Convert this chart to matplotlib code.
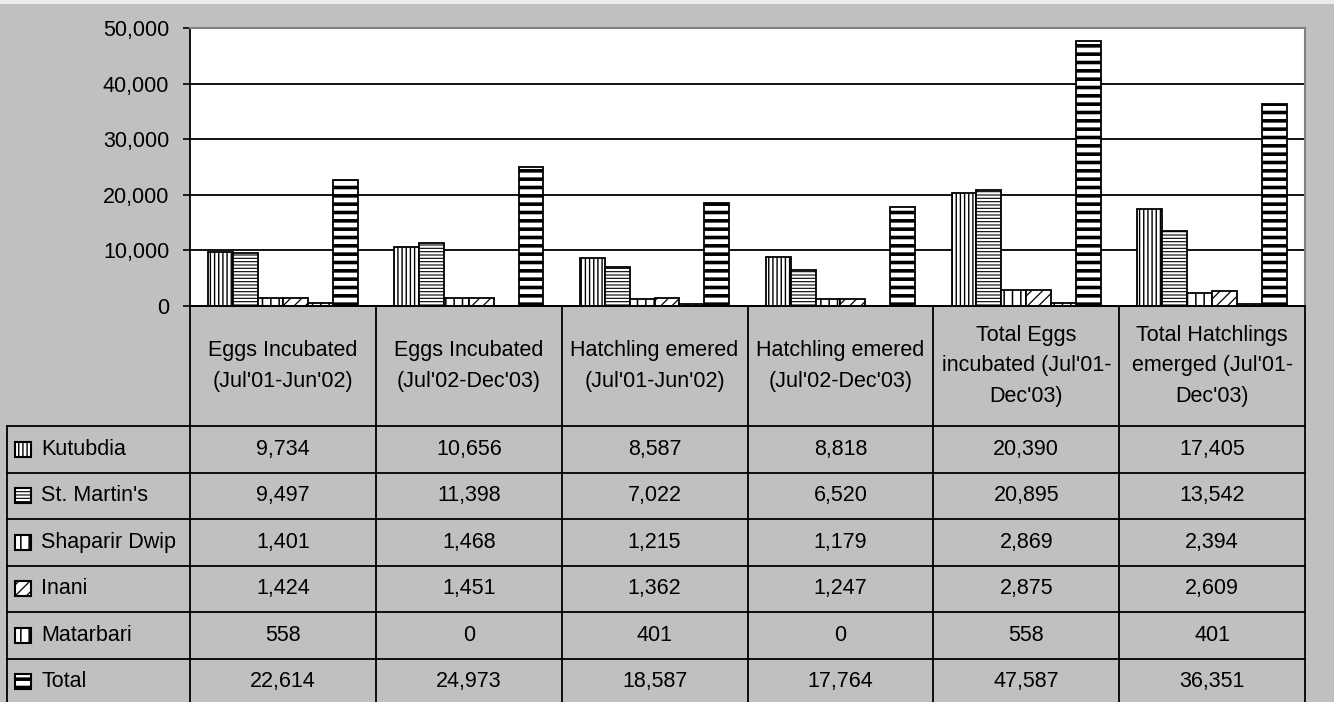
import matplotlib.pyplot as plt
from matplotlib.patches import Rectangle
import numpy as np

plt.rcParams['font.family'] = ['Liberation Sans', 'DejaVu Sans']

# data
categories = ["Eggs Incubated\n(Jul'01-Jun'02)", "Eggs Incubated\n(Jul'02-Dec'03)",
              "Hatchling emered\n(Jul'01-Jun'02)", "Hatchling emered\n(Jul'02-Dec'03)",
              "Total Eggs\nincubated (Jul'01-\nDec'03)", "Total Hatchlings\nemerged (Jul'01-\nDec'03)"]
sites = ['Kutubdia', "St. Martin's", 'Shaparir Dwip', 'Inani', 'Matarbari', 'Total']
kutubdia = [9734, 10656, 8587, 8818, 20390, 17405]
st_martins = [9497, 11398, 7022, 6520, 20895, 13542]
shaparir = [1401, 1468, 1215, 1179, 2869, 2394]
inani = [1424, 1451, 1362, 1247, 2875, 2609]
matarbari = [558, 0, 401, 0, 558, 401]
total = [22614, 24973, 18587, 17764, 47587, 36351]
yticks = [0, 10000, 20000, 30000, 40000, 50000]

series = [kutubdia, st_martins, shaparir, inani, matarbari, total]
hatches = ['||||', '-----', '||', '///', '||', '--']
hatch_lw = [1.0, 0.8, 1.1, 0.9, 1.1, 2.6]

W, H = 1334, 702
BG = '#c0c0c0'
FS = 15.5

fig = plt.figure(figsize=(W / 100, H / 100), dpi=100, facecolor=BG)
# light strip at the very top of the chart area
fig.patches.append(Rectangle((0, 1 - 4 / H), 1, 4 / H, transform=fig.transFigure,
                             facecolor='#ececec', edgecolor='none'))

ax = fig.add_axes([190 / W, (H - 306) / H, 1115 / W, 278 / H])
ax.set_facecolor('white')

x = np.arange(len(categories))
bw = 0.134
for j, vals in enumerate(series):
    bars = ax.bar(x + (j - 2.5) * bw, vals, width=bw, facecolor='white',
                  edgecolor='black', linewidth=1.3, hatch=hatches[j], zorder=3)
    for b in bars:
        if hasattr(b, 'set_hatch_linewidth'):
            b.set_hatch_linewidth(hatch_lw[j])

ax.set_xlim(-0.5, 5.5)
ax.set_ylim(0, 50000)
ax.set_yticks(yticks)
ax.set_yticklabels([f'{v:,}' for v in yticks])
ax.yaxis.grid(True, color='black', linewidth=1.3)
ax.set_axisbelow(True)
ax.set_xticks([])
ax.tick_params(axis='y', direction='out', length=5, width=1.2, labelsize=FS, pad=10)
ax.spines['left'].set_linewidth(1.3)
ax.spines['bottom'].set_linewidth(1.3)
ax.spines['top'].set_color('#808080')
ax.spines['right'].set_color('#808080')
ax.spines['top'].set_linewidth(1.5)
ax.spines['right'].set_linewidth(1.5)

# data table
px = 185.83


def xd(p):
    return -0.5 + (p - 190) / px


tax = fig.add_axes([7 / W, 0, 1298 / W, 396 / H])
tax.set_xlim(xd(7), 5.5)
tax.set_ylim(396, 0)
tax.axis('off')
tax.patch.set_alpha(0)

head_h, row_h = 120, 46.5
lk = dict(color='black', linewidth=1.3, clip_on=False)
for c in range(7):
    tax.plot([c - 0.5, c - 0.5], [0, 400], **lk)
tax.plot([xd(7), xd(7)], [head_h, 400], **lk)
tax.plot([-0.5, 5.5], [0, 0], **lk)
for k in range(len(sites)):
    y = head_h + row_h * k
    tax.plot([xd(7), 5.5], [y, y], **lk)

for c, lab in enumerate(categories):
    tax.text(c, head_h / 2, lab, ha='center', va='center', fontsize=FS, linespacing=1.6)

for r, (name, vals) in enumerate(zip(sites, series)):
    yc = head_h + row_h * (r + 0.5)
    key = Rectangle((xd(15), yc - 7.5), 16 / px, 15, facecolor='white',
                    edgecolor='black', linewidth=1.5, hatch=hatches[r])
    if hasattr(key, 'set_hatch_linewidth'):
        key.set_hatch_linewidth(hatch_lw[r])
    tax.add_patch(key)
    tax.text(xd(41), yc, name, ha='left', va='center', fontsize=FS)
    for c, v in enumerate(vals):
        tax.text(c, yc, f'{v:,}', ha='center', va='center', fontsize=FS)

fig.savefig('out.png', dpi=100, facecolor=BG)
